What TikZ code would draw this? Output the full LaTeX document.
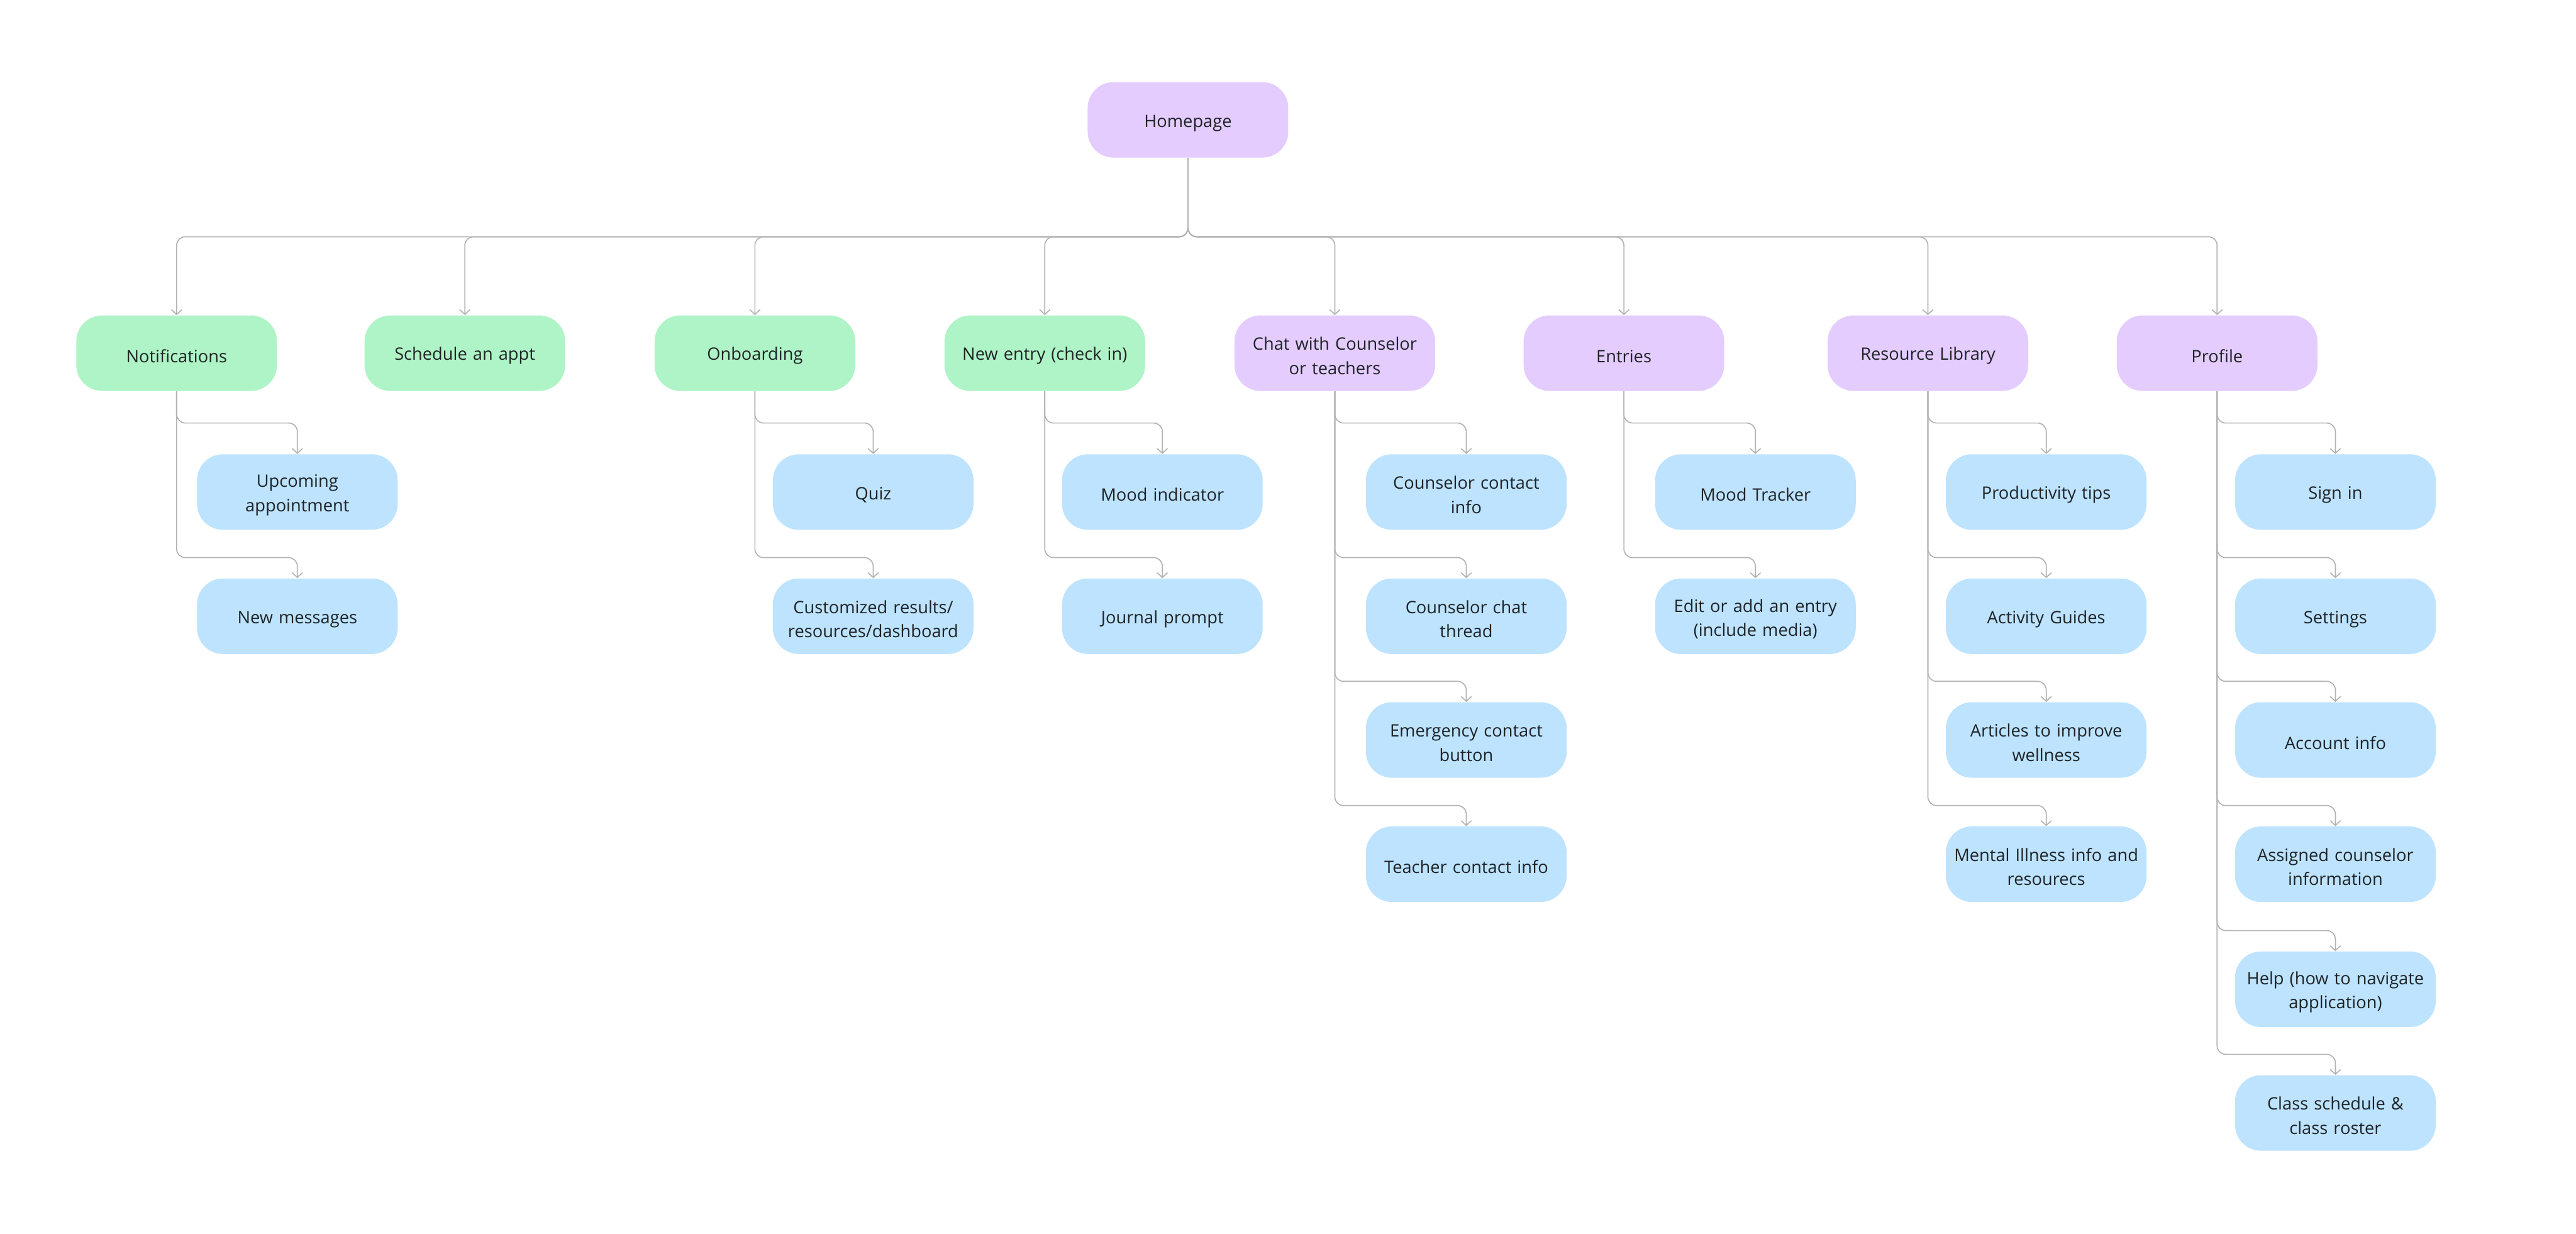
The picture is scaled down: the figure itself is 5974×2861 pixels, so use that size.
\documentclass[tikz,border=0pt]{standalone}
\usepackage{fontspec}
\setmainfont{Open Sans}
\usetikzlibrary{arrows.meta}
\definecolor{grn}{HTML}{AFF4C6}
\definecolor{vio}{HTML}{E4CCFF}
\definecolor{blu}{HTML}{BDE3FF}
\definecolor{ln}{HTML}{B3B3B3}
\definecolor{txt}{HTML}{1E2326}
\newcommand\myconn[3]{\draw[link] (#1.south) -- (#1.south |- 0,#3) -- (#2.north |- 0,#3) -- (#2.north);}
\begin{document}
\begin{tikzpicture}[x=0.01cm,y=-0.01cm,
  box/.style={rounded corners=0.6cm, minimum width=4.65cm, minimum height=1.75cm, text width=4.5cm, align=center, text=txt, font=\fontsize{11.3}{16}\selectfont, inner sep=0pt, execute at begin node={\rule{0pt}{12.2pt}}},
  gbox/.style={box, fill=grn},
  vbox/.style={box, fill=vio},
  bbox/.style={box, fill=blu},
  link/.style={draw=ln, line width=0.7pt, rounded corners=0.2cm, -{Straight Barb[length=0.11cm,width=0.24cm]}}]
\useasboundingbox[fill=white] (0,0) rectangle (5974,2861);
% root
\node[vbox] (home) at (2755,278) {Homepage};
% level 1
\node[gbox] (notif) at (409.6,819) {Notifications};
\node[gbox] (sched) at (1078,819) {Schedule an appt};
\node[gbox] (onb) at (1750.7,819) {Onboarding};
\node[gbox] (newe) at (2423,819) {New entry (check in)};
\node[vbox] (chat) at (3095.6,819) {Chat with Counselor\\or teachers};
\node[vbox] (entr) at (3766,819) {Entries};
\node[vbox] (res) at (4471,819) {Resource Library};
\node[vbox] (prof) at (5141.6,819) {Profile};
% children
\node[bbox] (n1) at (689.6,1141) {Upcoming\\appointment};
\node[bbox] (n2) at (689.6,1429) {New messages};
\node[bbox] (o1) at (2025,1141) {Quiz};
\node[bbox] (o2) at (2025,1429) {Customized results/\\resources/dashboard};
\node[bbox] (e1) at (2695.6,1141) {Mood indicator};
\node[bbox] (e2) at (2695.6,1429) {Journal prompt};
\node[bbox] (c1) at (3400.4,1141) {Counselor contact\\info};
\node[bbox] (c2) at (3400.4,1429) {Counselor chat\\thread};
\node[bbox] (c3) at (3400.4,1716) {Emergency contact\\button};
\node[bbox] (c4) at (3400.4,2004) {Teacher contact info};
\node[bbox] (t1) at (4071,1141) {Mood Tracker};
\node[bbox] (t2) at (4071,1429) {Edit or add an entry\\(include media)};
\node[bbox] (r1) at (4745.4,1141) {Productivity tips};
\node[bbox] (r2) at (4745.4,1429) {Activity Guides};
\node[bbox] (r3) at (4745.4,1716) {Articles to improve\\wellness};
\node[bbox] (r4) at (4745.4,2004) {Mental Illness info and\\resourecs};
\node[bbox] (p1) at (5416,1141) {Sign in};
\node[bbox] (p2) at (5416,1429) {Settings};
\node[bbox] (p3) at (5416,1716) {Account info};
\node[bbox] (p4) at (5416,2004) {Assigned counselor\\information};
\node[bbox] (p5) at (5416,2294) {Help (how to navigate\\application)};
\node[bbox] (p6) at (5416,2581) {Class schedule \&\\class roster};
% bus connectors
\foreach \t in {notif,sched,onb,newe,chat,entr,res,prof}{\myconn{home}{\t}{549}}
% child connectors
\myconn{notif}{n1}{981}
\myconn{notif}{n2}{1293}
\myconn{onb}{o1}{981}
\myconn{onb}{o2}{1293}
\myconn{newe}{e1}{981}
\myconn{newe}{e2}{1293}
\myconn{chat}{c1}{981}
\myconn{chat}{c2}{1293}
\myconn{chat}{c3}{1580}
\myconn{chat}{c4}{1868}
\myconn{entr}{t1}{981}
\myconn{entr}{t2}{1293}
\myconn{res}{r1}{981}
\myconn{res}{r2}{1293}
\myconn{res}{r3}{1580}
\myconn{res}{r4}{1868}
\myconn{prof}{p1}{981}
\myconn{prof}{p2}{1293}
\myconn{prof}{p3}{1580}
\myconn{prof}{p4}{1868}
\myconn{prof}{p5}{2158}
\myconn{prof}{p6}{2445}
\end{tikzpicture}
\end{document}
